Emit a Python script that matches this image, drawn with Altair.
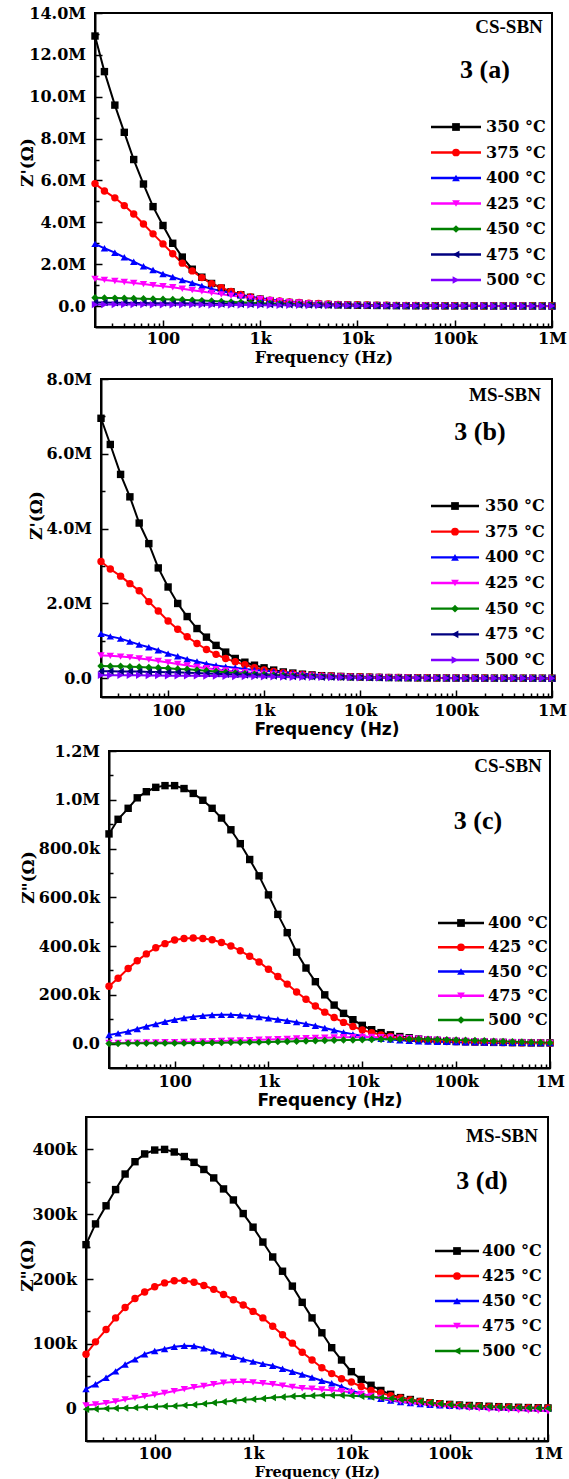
import altair as alt
import pandas as pd

# ---------------- data ----------------
FREQ_HZ = [20, 25, 32, 40, 50, 63, 79,
           100, 126, 158, 200, 251, 316, 398, 501, 631, 794,
           1000, 1259, 1585, 1995, 2512, 3162, 3981, 5012, 6310, 7943,
           10000, 12589, 15849, 19953, 25119, 31623, 39811, 50119, 63096, 79433,
           100000, 125893, 158489, 199526, 251189, 316228, 398107, 501187, 630957, 794328,
           1000000]

TEMPS_AB = ["350 °C", "375 °C", "400 °C", "425 °C", "450 °C", "475 °C", "500 °C"]
TEMPS_CD = ["400 °C", "425 °C", "450 °C", "475 °C", "500 °C"]

# (a) CS-SBN, Z' in MOhm
A_350 = [12.9, 11.2, 9.6, 8.3, 7.0, 5.83, 4.75, 3.85, 3.0, 2.34, 1.76, 1.38, 1.08, 0.86, 0.68, 0.54, 0.42, 0.33, 0.26, 0.21, 0.17, 0.14, 0.11, 0.09, 0.075, 0.06, 0.05, 0.04, 0.035, 0.03, 0.025, 0.02, 0.018, 0.015, 0.013, 0.011, 0.01, 0.009, 0.008, 0.007, 0.006, 0.005, 0.005, 0.004, 0.004, 0.003, 0.003, 0.003]
A_375 = [5.85, 5.5, 5.17, 4.8, 4.4, 3.92, 3.45, 2.97, 2.5, 2.05, 1.68, 1.36, 1.07, 0.88, 0.7, 0.56, 0.43, 0.34, 0.28, 0.24, 0.2, 0.17, 0.14, 0.12, 0.1, 0.08, 0.07, 0.06, 0.05, 0.045, 0.04, 0.035, 0.03, 0.025, 0.02, 0.018, 0.015, 0.013, 0.011, 0.01, 0.009, 0.008, 0.007, 0.006, 0.005, 0.005, 0.004, 0.004]
A_400 = [2.97, 2.76, 2.55, 2.33, 2.12, 1.9, 1.72, 1.53, 1.39, 1.24, 1.1, 0.96, 0.82, 0.72, 0.62, 0.53, 0.45, 0.38, 0.32, 0.27, 0.22, 0.18, 0.15, 0.12, 0.1, 0.08, 0.07, 0.06, 0.05, 0.04, 0.035, 0.03, 0.025, 0.02, 0.018, 0.015, 0.013, 0.011, 0.01, 0.009, 0.008, 0.007, 0.006, 0.005, 0.005, 0.004, 0.004, 0.003]
A_425 = [1.3, 1.25, 1.2, 1.15, 1.1, 1.05, 1.0, 0.95, 0.9, 0.83, 0.76, 0.7, 0.63, 0.56, 0.5, 0.44, 0.38, 0.33, 0.28, 0.23, 0.19, 0.16, 0.13, 0.1, 0.08, 0.06, 0.05, 0.04, 0.035, 0.03, 0.025, 0.02, 0.018, 0.015, 0.012, 0.01, 0.008, 0.006, 0.005, 0.004, 0.003, 0.002, 0.001, 0.0, 0.0, -0.01, -0.01, -0.01]
A_450 = [0.4, 0.39, 0.38, 0.37, 0.36, 0.35, 0.34, 0.33, 0.31, 0.3, 0.28, 0.26, 0.24, 0.22, 0.2, 0.18, 0.16, 0.14, 0.12, 0.11, 0.1, 0.09, 0.08, 0.07, 0.06, 0.05, 0.045, 0.04, 0.035, 0.03, 0.027, 0.024, 0.021, 0.018, 0.016, 0.014, 0.012, 0.01, 0.009, 0.008, 0.007, 0.006, 0.005, 0.004, 0.003, 0.003, 0.002, 0.002]
A_475 = [0.17, 0.17, 0.16, 0.16, 0.15, 0.15, 0.14, 0.14, 0.13, 0.13, 0.12, 0.12, 0.11, 0.1, 0.1, 0.09, 0.08, 0.08, 0.07, 0.06, 0.06, 0.05, 0.05, 0.04, 0.04, 0.035, 0.03, 0.027, 0.024, 0.021, 0.018, 0.016, 0.014, 0.012, 0.01, 0.009, 0.008, 0.007, 0.006, 0.005, 0.004, 0.004, 0.003, 0.003, 0.002, 0.002, 0.002, 0.001]
A_500 = [0.07, 0.07, 0.07, 0.07, 0.07, 0.07, 0.06, 0.06, 0.06, 0.06, 0.06, 0.06, 0.05, 0.05, 0.05, 0.05, 0.05, 0.04, 0.04, 0.04, 0.04, 0.04, 0.03, 0.03, 0.03, 0.03, 0.03, 0.02, 0.02, 0.02, 0.02, 0.02, 0.02, 0.01, 0.01, 0.01, 0.01, 0.01, 0.01, 0.01, 0.01, 0.0, 0.0, 0.0, 0.0, 0.0, 0.0, 0.0]

# (b) MS-SBN, Z' in MOhm
B_350 = [6.95, 6.25, 5.45, 4.85, 4.15, 3.6, 2.95, 2.44, 2.0, 1.65, 1.33, 1.1, 0.88, 0.7, 0.53, 0.43, 0.35, 0.28, 0.22, 0.17, 0.14, 0.11, 0.09, 0.07, 0.06, 0.05, 0.04, 0.035, 0.03, 0.025, 0.02, 0.018, 0.015, 0.013, 0.011, 0.01, 0.009, 0.008, 0.007, 0.006, 0.005, 0.005, 0.004, 0.004, 0.003, 0.003, 0.003, 0.002]
B_375 = [3.12, 2.92, 2.73, 2.53, 2.34, 2.05, 1.8, 1.53, 1.31, 1.11, 0.93, 0.77, 0.64, 0.53, 0.44, 0.36, 0.28, 0.22, 0.18, 0.15, 0.12, 0.1, 0.085, 0.07, 0.06, 0.05, 0.045, 0.04, 0.035, 0.03, 0.025, 0.02, 0.018, 0.015, 0.013, 0.011, 0.01, 0.009, 0.008, 0.007, 0.006, 0.005, 0.005, 0.004, 0.004, 0.003, 0.003, 0.002]
B_400 = [1.19, 1.12, 1.06, 0.98, 0.9, 0.83, 0.75, 0.66, 0.59, 0.51, 0.45, 0.39, 0.34, 0.31, 0.28, 0.25, 0.22, 0.2, 0.18, 0.16, 0.14, 0.12, 0.1, 0.085, 0.07, 0.06, 0.05, 0.04, 0.035, 0.03, 0.025, 0.02, 0.018, 0.015, 0.013, 0.011, 0.01, 0.009, 0.008, 0.007, 0.006, 0.005, 0.005, 0.004, 0.004, 0.003, 0.003, 0.002]
B_425 = [0.61, 0.6, 0.58, 0.56, 0.53, 0.5, 0.46, 0.42, 0.38, 0.34, 0.3, 0.27, 0.24, 0.21, 0.18, 0.16, 0.14, 0.12, 0.1, 0.09, 0.08, 0.07, 0.06, 0.05, 0.045, 0.04, 0.035, 0.03, 0.025, 0.02, 0.018, 0.015, 0.013, 0.011, 0.01, 0.009, 0.008, 0.007, 0.006, 0.005, 0.004, 0.004, 0.003, 0.003, 0.002, 0.002, 0.002, 0.001]
B_450 = [0.33, 0.32, 0.32, 0.31, 0.3, 0.29, 0.28, 0.27, 0.25, 0.24, 0.22, 0.2, 0.18, 0.16, 0.14, 0.12, 0.11, 0.1, 0.09, 0.08, 0.07, 0.06, 0.05, 0.045, 0.04, 0.035, 0.03, 0.025, 0.02, 0.018, 0.015, 0.013, 0.011, 0.01, 0.009, 0.008, 0.007, 0.006, 0.005, 0.004, 0.004, 0.003, 0.003, 0.002, 0.002, 0.002, 0.001, 0.001]
B_475 = [0.19, 0.19, 0.18, 0.18, 0.18, 0.17, 0.17, 0.16, 0.16, 0.15, 0.14, 0.13, 0.12, 0.11, 0.1, 0.09, 0.08, 0.07, 0.06, 0.05, 0.05, 0.04, 0.04, 0.03, 0.03, 0.025, 0.02, 0.018, 0.015, 0.013, 0.011, 0.01, 0.009, 0.008, 0.007, 0.006, 0.005, 0.004, 0.004, 0.003, 0.003, 0.002, 0.002, 0.002, 0.001, 0.001, 0.001, 0.001]
B_500 = [0.08, 0.08, 0.08, 0.08, 0.08, 0.075, 0.075, 0.07, 0.07, 0.07, 0.065, 0.06, 0.06, 0.055, 0.05, 0.05, 0.045, 0.04, 0.04, 0.035, 0.03, 0.03, 0.025, 0.025, 0.02, 0.02, 0.018, 0.016, 0.014, 0.012, 0.01, 0.009, 0.008, 0.007, 0.006, 0.005, 0.005, 0.004, 0.004, 0.003, 0.003, 0.002, 0.002, 0.002, 0.001, 0.001, 0.001, 0.001]

# (c) CS-SBN, Z'' in MOhm
C_400 = [0.86, 0.92, 0.965, 1.008, 1.033, 1.051, 1.058, 1.058, 1.046, 1.026, 0.998, 0.965, 0.925, 0.877, 0.82, 0.755, 0.688, 0.61, 0.53, 0.455, 0.375, 0.31, 0.254, 0.2, 0.158, 0.124, 0.098, 0.075, 0.057, 0.045, 0.036, 0.029, 0.024, 0.019, 0.016, 0.013, 0.011, 0.009, 0.008, 0.007, 0.006, 0.005, 0.005, 0.004, 0.004, 0.003, 0.003, 0.003]
C_425 = [0.235, 0.268, 0.308, 0.34, 0.368, 0.393, 0.41, 0.425, 0.431, 0.433, 0.431, 0.426, 0.415, 0.4, 0.381, 0.358, 0.335, 0.305, 0.275, 0.244, 0.212, 0.182, 0.154, 0.129, 0.107, 0.087, 0.07, 0.056, 0.045, 0.036, 0.029, 0.023, 0.019, 0.015, 0.012, 0.01, 0.009, 0.008, 0.007, 0.006, 0.005, 0.005, 0.004, 0.004, 0.003, 0.003, 0.003, 0.002]
C_450 = [0.035, 0.042, 0.05, 0.06, 0.07, 0.08, 0.09, 0.098, 0.105, 0.11, 0.114, 0.117, 0.118, 0.118, 0.116, 0.113, 0.109, 0.104, 0.099, 0.094, 0.088, 0.081, 0.073, 0.064, 0.055, 0.046, 0.038, 0.031, 0.025, 0.02, 0.017, 0.014, 0.012, 0.01, 0.009, 0.008, 0.007, 0.006, 0.005, 0.005, 0.004, 0.004, 0.003, 0.003, 0.003, 0.002, 0.002, 0.002]
C_475 = [0.003, 0.003, 0.004, 0.004, 0.005, 0.005, 0.006, 0.006, 0.007, 0.008, 0.009, 0.01, 0.011, 0.012, 0.013, 0.014, 0.016, 0.017, 0.018, 0.019, 0.021, 0.022, 0.023, 0.024, 0.025, 0.026, 0.026, 0.027, 0.027, 0.026, 0.025, 0.024, 0.022, 0.02, 0.018, 0.016, 0.014, 0.012, 0.011, 0.01, 0.009, 0.008, 0.007, 0.006, 0.005, 0.004, 0.004, 0.003]
C_500 = [0.0, 0.0, 0.001, 0.001, 0.001, 0.001, 0.002, 0.002, 0.002, 0.003, 0.003, 0.004, 0.004, 0.005, 0.005, 0.006, 0.006, 0.007, 0.008, 0.009, 0.01, 0.011, 0.012, 0.013, 0.014, 0.015, 0.015, 0.016, 0.017, 0.018, 0.018, 0.019, 0.019, 0.019, 0.018, 0.017, 0.016, 0.015, 0.014, 0.013, 0.012, 0.01, 0.009, 0.008, 0.007, 0.006, 0.005, 0.004]

# (d) MS-SBN, Z'' in kOhm
D_400 = [253, 285, 313, 338, 362, 381, 393, 399, 400, 396, 389, 380, 369, 356, 339, 322, 301, 280, 257, 234, 212, 189, 164, 140, 117, 94, 75, 57, 45, 36, 28, 22, 17, 14, 11, 9, 7.5, 6.5, 5.5, 4.8, 4.2, 3.6, 3, 2.5, 2, 1.6, 1.3, 1]
D_425 = [84, 103, 122, 140, 156, 170, 180, 188, 194, 197.4, 197.5, 195, 190, 184, 176, 168, 160, 150, 140, 127, 114, 101, 87, 75, 63, 54, 46, 41, 34, 28, 24, 20, 16.5, 13.5, 11, 9, 7.5, 6, 5, 4.2, 3.5, 3, 2.5, 2, 1.5, 1.2, 1, 0.8]
D_450 = [30, 37.5, 47.5, 57.5, 68, 76, 84, 89, 92, 95.4, 97, 96.5, 93, 88.5, 84, 80, 76, 72.5, 69, 66, 61.5, 57, 52.5, 48, 43, 39, 34, 28, 23, 19, 15, 12.5, 10, 8.5, 7, 6, 5, 4.5, 4, 3.5, 3, 2.5, 2, 1.5, 1.2, 1, 0.8, 0.6]
D_475 = [5, 6.5, 8.5, 11, 14, 16.5, 19, 21.5, 24, 27, 30, 33, 35, 37.5, 40, 41, 41.5, 40.5, 39, 37.5, 35.5, 33.5, 31.5, 30.5, 29.5, 28.5, 27, 25, 22.5, 19.5, 16.5, 13.5, 11, 9, 7.5, 6, 4.5, 3, 2, 1, 0, -1, -1.5, -2, -2.5, -3, -3.5, -4]
D_500 = [-1, -0.5, 0, 0.5, 1, 1.5, 2.5, 3, 3.5, 4, 5, 6, 7.5, 9, 10.5, 12, 13.5, 14.5, 15.5, 17, 18, 19, 19.5, 20, 20.5, 20.5, 20.5, 20, 19, 18, 17, 15.5, 14, 12.5, 11, 9, 7.5, 6, 5, 4, 3.5, 3, 2.5, 2, 1.5, 1, 0.5, 0]

# tick values
X_TICKS = [30, 40, 50, 60, 70, 80, 90,
           100, 200, 300, 400, 500, 600, 700, 800, 900,
           1000, 2000, 3000, 4000, 5000, 6000, 7000, 8000, 9000,
           10000, 20000, 30000, 40000, 50000, 60000, 70000, 80000, 90000,
           100000, 200000, 300000, 400000, 500000, 600000, 700000, 800000, 900000,
           1000000]
YT_A = [0, 1e6, 2e6, 3e6, 4e6, 5e6, 6e6, 7e6, 8e6, 9e6, 10e6, 11e6, 12e6, 13e6, 14e6]
YT_B = [0, 1e6, 2e6, 3e6, 4e6, 5e6, 6e6, 7e6, 8e6]
YT_C = [0, 1e5, 2e5, 3e5, 4e5, 5e5, 6e5, 7e5, 8e5, 9e5, 10e5, 11e5, 12e5]
YT_D = [0, 5e4, 10e4, 15e4, 20e4, 25e4, 30e4, 35e4, 40e4]

COL7 = ["#000000", "#ff0000", "#0000ff", "#ff00ff", "#008000", "#000080", "#8000ff"]
SHP7 = ["square", "circle", "triangle-up", "triangle-down", "diamond", "triangle-left", "triangle-right"]
COL5 = ["#000000", "#ff0000", "#0000ff", "#ff00ff", "#008000"]
SHP5_C = ["square", "circle", "triangle-up", "triangle-down", "diamond"]
SHP5_D = ["square", "circle", "triangle-up", "triangle-down", "triangle-left"]

for name, arr in list(globals().items()):
    if name[:2] in ("A_", "B_", "C_", "D_") and isinstance(arr, list):
        assert len(arr) == len(FREQ_HZ), f"{name} has {len(arr)} values"

X_LABEL_EXPR = ("datum.value == 100 ? '100' : datum.value == 1000 ? '1k' : datum.value == 10000 ? '10k' : "
                "datum.value == 100000 ? '100k' : datum.value == 1000000 ? '1M' : ''")
X_TICK_EXPR = "indexof([100,1000,10000,100000,1000000], datum.value) >= 0 ? -7 : -4"

SERIF = "DejaVu Serif"
SANS = "DejaVu Sans"


def make_panel(labels, series, mult, colors, shapes, w, h, ydomain, yticks, ylab_expr, ymajor,
               ytitle, ytitle_x, ytitle_y, xtitle_font, xtitle_size, xtitle_y, xlab_pad,
               leg_range, leg_x1, leg_x2, leg_xm, leg_xt, tag, tag_xy, num, num_xy):
    rows = []
    for lab, vals in zip(labels, series):
        for f, v in zip(FREQ_HZ, vals):
            rows.append({"f": f, "z": v * mult, "T": lab})
    df = pd.DataFrame(rows)

    cscale = alt.Scale(domain=labels, range=colors)
    sscale = alt.Scale(domain=labels, range=shapes)

    x_enc = alt.X("f:Q", scale=alt.Scale(type="log", domain=[20, 1000000]),
                  axis=alt.Axis(values=X_TICKS, labelExpr=X_LABEL_EXPR,
                                tickSize=alt.ExprRef(expr=X_TICK_EXPR),
                                tickColor="black", tickWidth=1.5, domainColor="black", domainWidth=2,
                                grid=False, labelFont=SERIF, labelFontWeight="bold", labelFontSize=16,
                                labelColor="black", labelPadding=xlab_pad, labelFlush=False, labelOverlap=False,
                                title="Frequency (Hz)", titleFont=xtitle_font, titleFontWeight="bold",
                                titleFontSize=xtitle_size, titleColor="black", titleY=xtitle_y,
                                titleBaseline="middle"))
    y_enc = alt.Y("z:Q", scale=alt.Scale(domain=ydomain, nice=False, zero=False),
                  axis=alt.Axis(values=yticks, labelExpr=ylab_expr,
                                tickSize=alt.ExprRef(expr=f"(datum.value % {ymajor} == 0) ? -7 : -4"),
                                tickColor="black", tickWidth=1.5, domainColor="black", domainWidth=2,
                                grid=False, labelFont=SERIF, labelFontWeight="bold", labelFontSize=16,
                                labelColor="black", labelPadding=16.5, labelOverlap=False,
                                title=ytitle, titleFont=SERIF, titleFontWeight="bold", titleFontSize=17,
                                titleColor="black", titleX=ytitle_x, titleY=ytitle_y, titleAngle=270,
                                titleBaseline="bottom", titleAlign="center"))
    color = alt.Color("T:N", scale=cscale, legend=None)

    base = alt.Chart(df)
    lines = base.mark_line(strokeWidth=2).encode(x=x_enc, y=y_enc, color=color)
    pts = base.mark_point(filled=True, size=55, opacity=1).encode(
        x=x_enc, y=y_enc, color=color, shape=alt.Shape("T:N", scale=sscale, legend=None))
    data_layer = alt.layer(lines, pts)

    leg_df = pd.DataFrame({"T": labels})
    leg_y = alt.Y("T:N", scale=alt.Scale(type="point", domain=labels, range=leg_range, padding=0), axis=None)
    lb = alt.Chart(leg_df)
    l_rule = lb.mark_rule(strokeWidth=2.4).encode(x=alt.value(leg_x1), x2=alt.value(leg_x2), y=leg_y, color=color)
    l_pts = lb.mark_point(filled=True, size=60, opacity=1).encode(
        x=alt.value(leg_xm), y=leg_y, color=color, shape=alt.Shape("T:N", scale=sscale, legend=None))
    l_txt = lb.mark_text(align="left", baseline="middle", font=SERIF, fontWeight="bold",
                         fontSize=16, color="black").encode(x=alt.value(leg_xt), y=leg_y, text="T:N")
    one = alt.Data(values=[{"k": 1}])
    t_tag = alt.Chart(one).mark_text(text=tag, align="center", baseline="middle", font="Liberation Serif",
                                     fontWeight="bold", fontSize=19, color="black").encode(
        x=alt.value(tag_xy[0]), y=alt.value(tag_xy[1]))
    t_num = alt.Chart(one).mark_text(text=num, align="center", baseline="middle", font="Liberation Serif",
                                     fontWeight="bold", fontSize=26, color="black").encode(
        x=alt.value(num_xy[0]), y=alt.value(num_xy[1]))
    leg_layer = alt.layer(l_rule, l_pts, l_txt, t_tag, t_num)

    return alt.layer(data_layer, leg_layer).resolve_scale(y="independent").properties(width=w, height=h)


def with_indent(panel, indent):
    spacer = alt.Chart(alt.Data(values=[{"k": 1}])).mark_point(opacity=0).encode(
        x=alt.value(0), y=alt.value(0)).properties(
        width=indent, height=10, view=alt.ViewBackground(stroke="transparent", fill="transparent"))
    return alt.HConcatChart(hconcat=[spacer, panel], spacing=0)


LAB_AB = ("datum.value == 0 ? '0.0' : (datum.value % 2000000 == 0 ? format(datum.value / 1000000, '.1f') + 'M' : '')")
LAB_C = ("datum.value == 0 ? '0.0' : (datum.value % 200000 != 0 ? '' : (datum.value >= 1000000 ? "
         "format(datum.value / 1000000, '.1f') + 'M' : format(datum.value / 1000, '.1f') + 'k'))")
LAB_D = ("datum.value == 0 ? '0' : (datum.value % 100000 != 0 ? '' : format(datum.value / 1000, 'd') + 'k')")

pa = make_panel(TEMPS_AB, [A_350, A_375, A_400, A_425, A_450, A_475, A_500], 1e6, COL7, SHP7,
                457, 314, [-1000000, 14000000], YT_A, LAB_AB, 2000000,
                "Z'(Ω)", -58.5, 149, SERIF, 16, 30, 10,
                [114, 267], 336, 386, 361, 391, "CS-SBN", (414, 14), "3 (a)", (390, 57))
pb = make_panel(TEMPS_AB, [B_350, B_375, B_400, B_425, B_450, B_475, B_500], 1e6, COL7, SHP7,
                451, 318, [-500000, 8000000], YT_B, LAB_AB, 2000000,
                "Z'(Ω)", -56, 136, SANS, 17, 32, 12,
                [127, 281], 330, 378, 354, 384, "MS-SBN", (404, 16), "3 (b)", (379, 53))
pc = make_panel(TEMPS_CD, [C_400, C_425, C_450, C_475, C_500], 1e6, COL5, SHP5_C,
                441, 317, [-100000, 1200000], YT_C, LAB_C, 200000,
                'Z"(Ω)', -72, 126, SANS, 17, 32, 12,
                [172, 269], 329, 375, 352, 379, "CS-SBN", (399, 15), "3 (c)", (369, 70))
pd_ = make_panel(TEMPS_CD, [D_400, D_425, D_450, D_475, D_500], 1e3, COL5, SHP5_D,
                 462, 324, [-50000, 450000], YT_D, LAB_D, 100000,
                 'Z"(Ω)', -49.5, 148, SERIF, 14.5, 31, 11,
                 [134, 234], 349, 393, 371, 396, "MS-SBN", (416, 19), "3 (d)", (396, 64))

rows_ = [with_indent(pa, 8), with_indent(pb, 16.5), with_indent(pc, 9), with_indent(pd_, 7.5)]

chart = alt.ConcatChart(concat=rows_, columns=1, spacing=4).resolve_scale(
    color="independent", shape="independent").properties(
    padding={"left": 4, "top": 4, "right": 0, "bottom": 0},
    background="white",
).configure_view(stroke="black", strokeWidth=2)

chart.save("out.html", embed_options={"renderer": "svg", "actions": False})
